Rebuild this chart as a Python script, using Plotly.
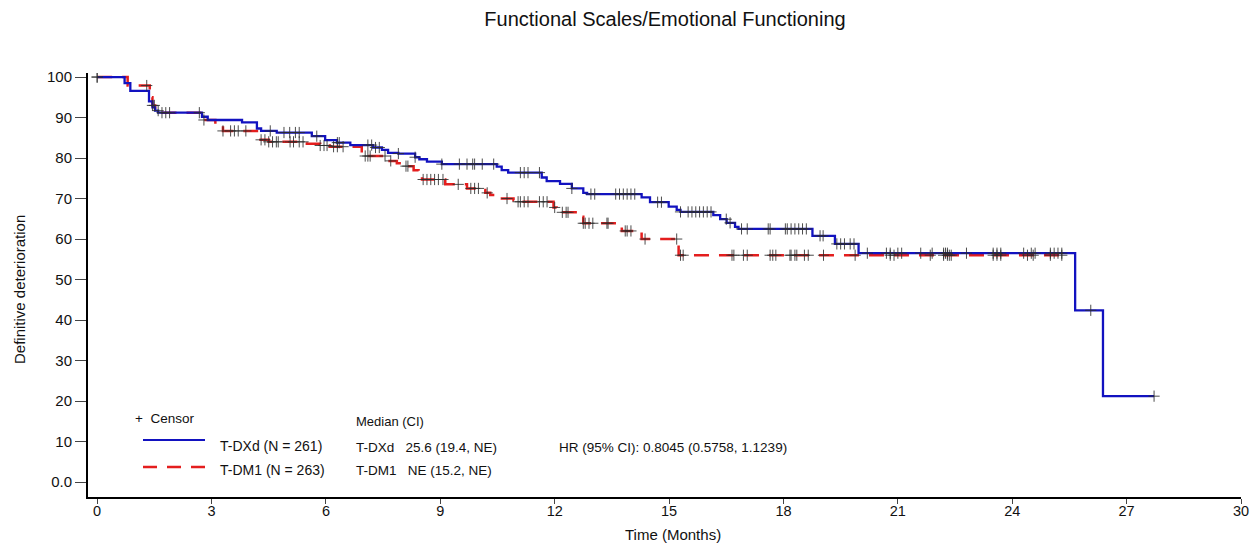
import numpy as np
import plotly.graph_objects as go

# ---------------- data ----------------
tick_months = [0, 3, 6, 9, 12, 15, 18, 21, 24, 27, 30]
y_ticks = [0, 10, 20, 30, 40, 50, 60, 70, 80, 90, 100]
y_tick_labels = ["0.0", "10", "20", "30", "40", "50", "60", "70", "80", "90", "100"]

# T-DXd step curve (event times in months, survival %)
dxd_times = [0, 0.72, 0.87, 1.36, 1.45, 1.52, 1.6, 2.75, 2.9, 3.8, 4.19, 4.3, 4.71,
             5.63, 5.98, 6.29, 6.64, 7.24, 7.47, 7.63, 7.9, 8.34, 8.45, 8.65, 9.04,
             10.48, 10.61, 10.78, 11.66, 11.79, 12.14, 12.45, 12.75, 12.85, 14.28,
             14.5, 14.99, 15.2, 15.3, 16.16, 16.34, 16.51, 16.73, 16.82, 18.76,
             19.35, 19.97, 25.65, 26.38]
dxd_surv = [100, 98.5, 96.6, 94.0, 92.5, 91.7, 91.2, 90.2, 89.4, 88.8, 87.3, 86.7, 86.3,
            85.4, 84.4, 83.8, 83.2, 82.6, 82.0, 81.3, 81.1, 80.2, 79.7, 79.1, 78.5,
            77.9, 77.0, 76.4, 75.2, 74.3, 73.6, 72.5, 71.4, 71.1, 70.3,
            69.1, 68.0, 67.2, 66.7, 65.9, 64.9, 64.0, 63.0, 62.5, 60.8,
            58.8, 56.5, 42.4, 21.2]
dxd_end = 27.72
dxd_censor = [0, 2.68, 4.54, 4.9, 5.05, 5.2, 5.3, 5.76, 6.3, 6.35, 7.1, 7.2, 7.3, 7.4,
              7.9, 8.34, 9.04, 9.5, 9.7, 9.85, 9.9, 10.1, 10.4, 11.1, 11.2, 11.3, 11.6,
              12.45, 12.95, 13.05, 13.6, 13.7, 13.8, 13.9, 14.0, 14.1, 14.7, 14.8,
              15.3, 15.5, 15.6, 15.7, 15.8, 15.9, 16.0, 16.1, 16.5, 16.6, 16.9, 17.05,
              17.6, 17.65, 18.05, 18.1, 18.2, 18.3, 18.4, 18.5, 18.6, 18.96, 19.04,
              19.4, 19.5, 19.6, 19.75, 19.85, 20.2, 20.7, 20.8, 21.0, 21.1, 21.6, 21.9,
              22.2, 22.25, 22.3, 22.8, 23.5, 23.6, 23.7, 24.3, 24.5, 24.6, 25.0, 25.1,
              25.2, 25.3, 26.06, 27.72]

# T-DM1 step curve
dm1_times = [0, 0.8, 1.38, 1.45, 1.52, 1.65, 2.75, 3.1, 3.3, 4.19, 4.5, 5.5, 5.85, 6.1,
             6.94, 7.0, 7.6, 7.86, 8.03, 8.3, 8.43, 8.52, 9.13, 9.7, 10.05, 10.18,
             10.31, 10.57, 10.92, 11.0, 11.97, 12.05, 12.67, 12.75, 13.76, 14.28, 15.25]
dm1_surv = [100, 97.9, 95.0, 93.0, 91.7, 91.2, 89.4, 88.1, 86.7, 84.5, 84.0, 83.5, 83.1, 82.8,
            81.2, 80.5, 79.3, 78.7, 78.0, 77.0, 76.2, 74.7, 73.5, 72.5, 72.1, 71.4,
            70.9, 70.0, 69.6, 69.2, 67.8, 66.6, 65.5, 63.9, 62.0, 60.0, 56.0]
dm1_end = 25.3
dm1_censor = [0, 1.3, 1.45, 1.5, 1.6, 1.7, 1.8, 1.9, 2.8, 3.3, 3.5, 3.6, 3.7, 3.9,
              4.3, 4.4, 4.5, 4.6, 4.7, 4.75, 5.06, 5.15, 5.3, 5.4, 5.85, 5.95, 6.03,
              6.2, 6.3, 6.45, 7.03, 7.1, 7.16, 7.55, 7.7, 8.1, 8.15, 8.55, 8.65, 8.75,
              8.85, 8.95, 9.07, 9.47, 9.8, 9.9, 10.0, 10.23, 10.75, 11.04, 11.1, 11.2,
              11.3, 11.6, 11.7, 11.8, 12.0, 12.2, 12.3, 12.35, 12.75, 12.8, 12.9, 13.0,
              13.37, 13.4, 13.85, 13.9, 14.0, 14.37, 15.2, 15.3, 15.37, 16.65, 16.7,
              16.95, 17.05, 17.65, 17.72, 17.8, 18.17, 18.2, 18.3, 18.35, 18.55, 18.65,
              19.05, 19.88, 20.8, 20.9, 21.85, 22.2, 22.3, 22.35, 22.4, 23.5, 23.6,
              23.7, 24.4, 24.55, 25.0, 25.3]

BLUE = "#1212c0"
RED = "#e41e1e"
CENSOR = "rgba(45,45,45,0.85)"
FONT = "Liberation Sans, Arial, sans-serif"


def step_xy(times, surv, end):
    xs, ys = list(times), list(surv)
    xs.append(end)
    ys.append(surv[-1])
    return xs, ys


def value_at(times, surv, t):
    idx = np.searchsorted(np.array(times), t, side="right") - 1
    return surv[max(idx, 0)]


fig = go.Figure()

x1, y1 = step_xy(dm1_times, dm1_surv, dm1_end)
fig.add_trace(go.Scatter(x=x1, y=y1, mode="lines", line_shape="hv",
                         line=dict(color=RED, width=2.5, dash="15px,10px"),
                         showlegend=False, hoverinfo="skip"))
x2, y2 = step_xy(dxd_times, dxd_surv, dxd_end)
fig.add_trace(go.Scatter(x=x2, y=y2, mode="lines", line_shape="hv",
                         line=dict(color=BLUE, width=2.3),
                         showlegend=False, hoverinfo="skip"))

for cens, times, surv in [(dm1_censor, dm1_times, dm1_surv), (dxd_censor, dxd_times, dxd_surv)]:
    fig.add_trace(go.Scatter(
        x=cens, y=[value_at(times, surv, c) for c in cens], mode="markers",
        marker=dict(symbol="cross-thin", size=8, line=dict(color=CENSOR, width=1)),
        showlegend=False, hoverinfo="skip"))

# ---------------- layout ----------------
W, H = 1254, 549
L, R, T, B = 88, 13, 73, 52
PW, PH = W - L - R, H - T - B


def px(x):
    return (x - L) / PW


def py(y):
    return (H - B - y) / PH


shapes = [
    dict(type="line", xref="paper", yref="paper", x0=px(143), x1=px(205), y0=py(440), y1=py(440),
         line=dict(color=BLUE, width=2)),
    dict(type="line", xref="paper", yref="paper", x0=px(143), x1=px(205), y0=py(467), y1=py(467),
         line=dict(color=RED, width=2.5, dash="14px,10px")),
]


def ann(x, y, text, size=13.5, anchor="left", angle=0):
    return dict(x=px(x), y=py(y), xref="paper", yref="paper", text=text, showarrow=False,
                xanchor=anchor, yanchor="middle", textangle=angle,
                font=dict(family=FONT, size=size, color="#111"))


annotations = [
    ann(133, 418, "+  Censor"),
    ann(218, 446, "T-DXd (N = 261)", size=14),
    ann(218, 470, "T-DM1 (N = 263)", size=14),
    ann(354, 421, "Median (CI)", size=13),
    ann(354, 447, "T-DXd   25.6 (19.4, NE)"),
    ann(354, 470, "T-DM1   NE (15.2, NE)"),
    ann(557, 447, "HR (95% CI): 0.8045 (0.5758, 1.1239)"),
    ann(19, 290, "Definitive deterioration", size=15, anchor="center", angle=-90),
    ann(673, 534, "Time (Months)", size=15, anchor="center"),
]

fig.update_layout(
    width=W, height=H,
    margin=dict(l=L, r=R, t=T, b=B, autoexpand=False),
    paper_bgcolor="white", plot_bgcolor="white",
    title=dict(text="Functional Scales/Emotional Functioning", x=665 / W, xanchor="center",
               y=1 - 19 / H, yanchor="middle",
               font=dict(family=FONT, size=20, color="#111")),
    shapes=shapes, annotations=annotations,
    xaxis=dict(range=[-0.24, 30], tickvals=tick_months, ticktext=[str(t) for t in tick_months],
               automargin=False,
               showgrid=False, zeroline=False, showline=True, linecolor="black", linewidth=2,
               ticks="outside", ticklen=5, tickcolor="#444", tickwidth=1,
               tickfont=dict(family=FONT, size=14.5, color="#111")),
    yaxis=dict(range=[-3.7, 101], tickvals=y_ticks, ticktext=y_tick_labels,
               automargin=False,
               showgrid=False, zeroline=False, showline=True, linecolor="black", linewidth=2,
               ticks="outside", ticklen=11, tickcolor="#444", tickwidth=1,
               tickfont=dict(family=FONT, size=15, color="#111")),
)

try:
    fig.update_xaxes(ticklabelstandoff=-5)
except Exception:
    pass

fig.write_html("out.html")
